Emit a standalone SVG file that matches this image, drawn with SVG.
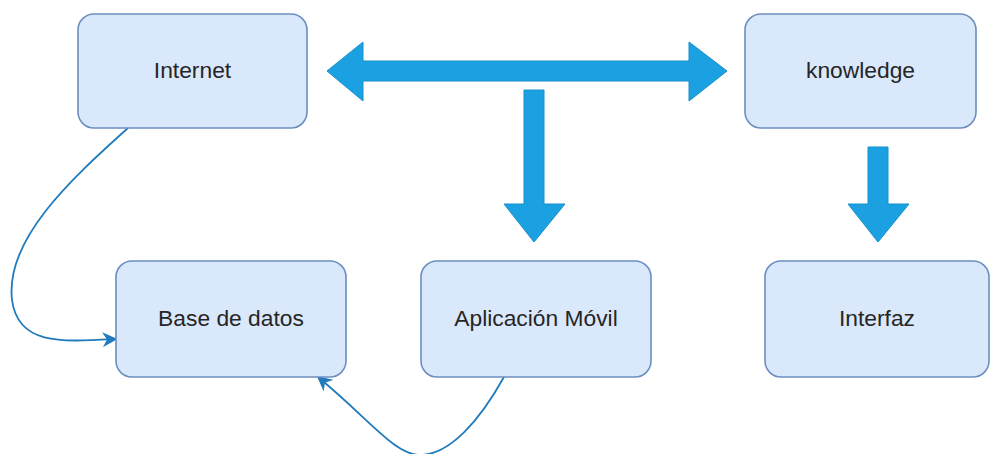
<svg xmlns="http://www.w3.org/2000/svg" width="990" height="454" viewBox="0 0 990 454">
  <defs>
    <style>
      .box { fill: #dae8fc; stroke: #6c8ebf; stroke-width: 1.6; }
      .label { font-family: "Liberation Sans", Arial, sans-serif; font-size: 22.8px; fill: #262626; text-anchor: middle; }
      .block { fill: #1ba1e2; stroke: #1590cc; stroke-width: 1; stroke-linejoin: miter; }
      .link { fill: none; stroke: #1f7bbd; stroke-width: 1.8; }
    </style>
    <marker id="headL" viewBox="0 0 10 10" refX="9" refY="5" markerWidth="15" markerHeight="15" markerUnits="userSpaceOnUse" orient="auto">
      <path d="M0,0 L10,5 L0,10 L3,5 Z" fill="#1f7bbd"/>
    </marker>
  </defs>

  <rect width="990" height="454" fill="#ffffff"/>

  <g id="connectors">
    <!-- double-headed block arrow between Internet and knowledge -->
    <path class="block" d="M327,71 L363,42 L363,61 L689,61 L689,42 L727,71 L689,101 L689,81 L363,81 L363,101 Z"/>
    <!-- block arrow down to Aplicación Móvil -->
    <path class="block" d="M524,90 L544,90 L544,204 L565,204 L534,242 L504,204 L524,204 Z"/>
    <!-- block arrow down to Interfaz -->
    <path class="block" d="M868,147 L888,147 L888,204 L909,204 L878,242 L848,204 L868,204 Z"/>
    <!-- Internet to Base de datos -->
    <path class="link" marker-end="url(#headL)" d="M128,128 C70,180 5,240 12,300 C18,345 60,342 116,339"/>
    <!-- Aplicación Móvil to Base de datos -->
    <path class="link" marker-end="url(#headL)" d="M504,377 C480,420 450,455 420,455 C395,455 370,420 318,377"/>
  </g>

  <g id="internet">
    <rect class="box" x="78" y="14" width="229" height="114" rx="16"/>
    <text class="label" x="192.5" y="78">Internet</text>
  </g>
  <g id="knowledge">
    <rect class="box" x="745" y="14" width="231" height="114" rx="16"/>
    <text class="label" x="860.5" y="78">knowledge</text>
  </g>
  <g id="base-de-datos">
    <rect class="box" x="116" y="261" width="230" height="116" rx="16"/>
    <text class="label" x="231" y="326">Base de datos</text>
  </g>
  <g id="aplicacion-movil">
    <rect class="box" x="421" y="261" width="230" height="116" rx="16"/>
    <text class="label" x="536" y="326">Aplicación Móvil</text>
  </g>
  <g id="interfaz">
    <rect class="box" x="765" y="261" width="224" height="116" rx="16"/>
    <text class="label" x="877" y="326">Interfaz</text>
  </g>
</svg>
